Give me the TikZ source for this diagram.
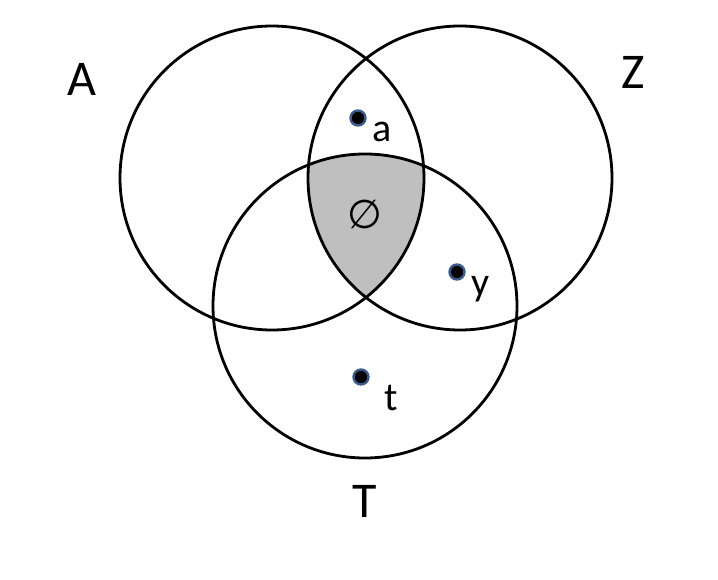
\documentclass[tikz,border=0pt]{standalone}
\usepackage{fontspec}
\setmainfont{Carlito}
\newfontfamily\symfont{DejaVu Sans}
\definecolor{dotrim}{HTML}{3C5A8C}
\definecolor{vennfill}{HTML}{BFBFBF}
\tikzset{
  venn/.style={line width=2.8pt},
  elem/.style={circle, fill=black, draw=dotrim, line width=2.4pt, inner sep=0pt, minimum size=15pt},
  setname/.style={anchor=base, font=\fontsize{50}{60}\selectfont},
  elemname/.style={anchor=base, font=\fontsize{40}{48}\selectfont}
}
\begin{document}
\begin{tikzpicture}[x=1pt,y=-1pt]
  \useasboundingbox (0,0) rectangle (718,580);
  \coordinate (cA) at (272,178);
  \coordinate (cZ) at (460,178);
  \coordinate (cT) at (365,306);

  % shaded part A, Z and T have in common
  \begin{scope}
    \clip (cA) circle (152pt);
    \clip (cZ) circle (152pt);
    \fill[vennfill] (cT) circle (152pt);
  \end{scope}

  \draw[venn] (cA) circle (152pt);
  \draw[venn] (cZ) circle (152pt);
  \draw[venn] (cT) circle (152pt);

  \node[setname] (A) at (82,96) {A};
  \node[setname] (Z) at (633,89) {Z};
  \node[setname] (T) at (365,517) {T};
  \node[anchor=base, font=\symfont\fontsize{40}{48}\selectfont] (empty) at (365,229) {∅};

  \node[elem] (a) at (358,118) {};
  \node[elem] (y) at (457,272) {};
  \node[elem] (t) at (361,377) {};
  \node[elemname] (alabel) at (382,142) {a};
  \node[elemname] (ylabel) at (481,296) {y};
  \node[elemname] (tlabel) at (391,410) {t};
\end{tikzpicture}
\end{document}
